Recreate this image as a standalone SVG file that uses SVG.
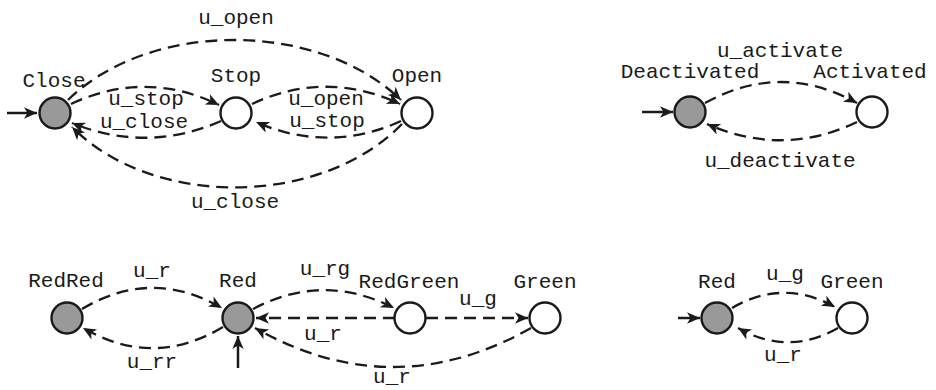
<svg xmlns="http://www.w3.org/2000/svg" width="936" height="390" viewBox="0 0 936 390">
<style>
.st{stroke:#1a1a1a;stroke-width:2.4}
.init{fill:#999}
.norm{fill:#fff}
.lbl{font-family:"Liberation Mono","DejaVu Sans Mono",monospace;font-size:21px;fill:#1a1a1a;text-anchor:middle}
.e{fill:none;stroke:#1a1a1a;stroke-width:2.3;stroke-dasharray:12 7;marker-end:url(#ah)}
.s{fill:none;stroke:#1a1a1a;stroke-width:2.5;marker-end:url(#ah)}
</style>
<defs>
<marker id="ah" markerUnits="userSpaceOnUse" markerWidth="16" markerHeight="14" refX="13" refY="6" orient="auto" overflow="visible">
<path d="M0,0.3 L13,6 L0,11.7 L3.5,6 Z" fill="#1a1a1a"/>
</marker>
</defs>
<rect width="936" height="390" fill="#fff"/>

<g id="connectors">
<!-- graph 1 -->
<path class="s" d="M7,113 L37,113"/>
<path class="e" d="M68,100 C150,20 318,20 401,100"/>
<path class="e" d="M71,104 C120,81 170,81 219,105"/>
<path class="e" d="M221,121 C172,143 121,143 72,123"/>
<path class="e" d="M252,104 C301,81 351,81 400,104"/>
<path class="e" d="M401,121 C353,143 304,143 256,122"/>
<path class="e" d="M402,124 C320,208 152,208 72,127"/>
<!-- graph 2 -->
<path class="s" d="M642,112 L673,112"/>
<path class="e" d="M705,103 C756,75 806,75 857,103"/>
<path class="e" d="M857,122 C807,146 757,146 707,124"/>
<!-- graph 3 -->
<path class="e" d="M82,309 C129,281 175,281 222,308"/>
<path class="e" d="M223,327 C176,355 130,355 83,328"/>
<path class="e" d="M253,309 C300,284 347,284 394,308"/>
<path class="e" d="M395,318 L256,318"/>
<path class="e" d="M426,318 L528,318"/>
<path class="e" d="M531,328 C439,380 347,380 255,328"/>
<path class="s" d="M238,368 L238,336"/>
<!-- graph 4 -->
<path class="s" d="M678,318 L700,318"/>
<path class="e" d="M732,308 C766,288 801,288 835,307"/>
<path class="e" d="M838,328 C805,347 771,347 738,328"/>
</g>

<g id="edge-labels" class="lbl">
<text x="236" y="24">u_open</text>
<text x="146" y="105">u_stop</text>
<text x="144" y="128">u_close</text>
<text x="326" y="105">u_open</text>
<text x="327" y="127">u_stop</text>
<text x="235" y="208">u_close</text>
<text x="780" y="57">u_activate</text>
<text x="780" y="167">u_deactivate</text>
<text x="152" y="277">u_r</text>
<text x="152" y="368">u_rr</text>
<text x="325" y="275">u_rg</text>
<text x="478" y="305">u_g</text>
<text x="323" y="340">u_r</text>
<text x="392" y="383">u_r</text>
<text x="785" y="280">u_g</text>
<text x="783" y="361">u_r</text>
</g>

<g id="Close"><circle class="st init" cx="55" cy="113" r="15.5"/><text class="lbl" x="54" y="87">Close</text></g>
<g id="Stop"><circle class="st norm" cx="236" cy="113" r="15.5"/><text class="lbl" x="236" y="82">Stop</text></g>
<g id="Open"><circle class="st norm" cx="417" cy="113" r="15.5"/><text class="lbl" x="417" y="82">Open</text></g>

<g id="Deactivated"><circle class="st init" cx="690" cy="112" r="15.5"/><text class="lbl" x="690" y="78">Deactivated</text></g>
<g id="Activated"><circle class="st norm" cx="872" cy="112" r="15.5"/><text class="lbl" x="870" y="78">Activated</text></g>

<g id="RedRed"><circle class="st init" cx="67" cy="318" r="15.5"/><text class="lbl" x="66" y="287">RedRed</text></g>
<g id="Red"><circle class="st init" cx="238" cy="318" r="15.5"/><text class="lbl" x="238" y="287">Red</text></g>
<g id="RedGreen"><circle class="st norm" cx="410" cy="318" r="15.5"/><text class="lbl" x="409" y="288">RedGreen</text></g>
<g id="Green"><circle class="st norm" cx="545" cy="318" r="15.5"/><text class="lbl" x="545" y="288">Green</text></g>

<g id="Red2"><circle class="st init" cx="717" cy="318" r="15.5"/><text class="lbl" x="717" y="288">Red</text></g>
<g id="Green2"><circle class="st norm" cx="852" cy="318" r="15.5"/><text class="lbl" x="852" y="288">Green</text></g>
</svg>
